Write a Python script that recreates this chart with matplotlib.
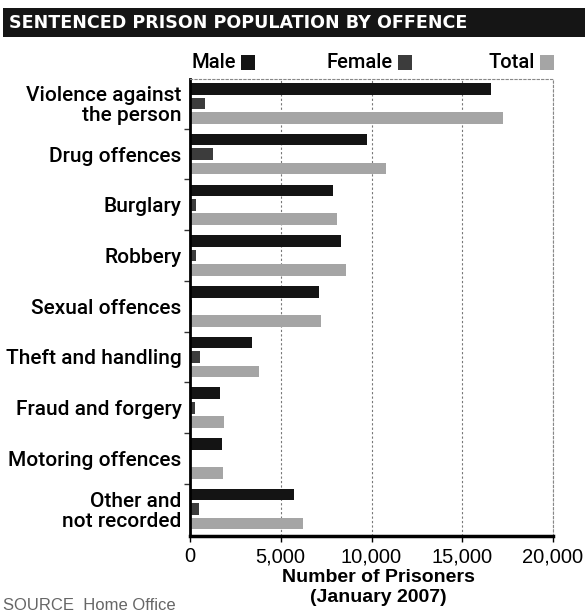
import numpy as np
import matplotlib
matplotlib.use("Agg")
import matplotlib.pyplot as plt
from matplotlib.patches import Rectangle

plt.rcParams['font.family'] = ['Roboto', 'DejaVu Sans']

# data
categories = ["Violence against\nthe person", "Drug offences", "Burglary", "Robbery",
              "Sexual offences", "Theft and handling", "Fraud and forgery",
              "Motoring offences", "Other and\nnot recorded"]
male = [16600, 9750, 7900, 8300, 7100, 3400, 1650, 1750, 5750]
female = [850, 1250, 350, 350, 120, 550, 300, 60, 500]
total = [17250, 10800, 8100, 8600, 7200, 3800, 1850, 1800, 6250]
xticks = [0, 5000, 10000, 15000, 20000]
xtick_labels = ["0", "5,000", "10,000", "15,000", "20,000"]

fig = plt.figure(figsize=(5.85, 6.14), dpi=100)
fig.patch.set_facecolor("white")

# title bar
fig.add_artist(Rectangle((0.005, 1 - 37 / 614), 0.995, 29 / 614, transform=fig.transFigure,
                         facecolor="#151515", edgecolor="none"))
fig.text(0.016, 1 - 23 / 614, "SENTENCED PRISON POPULATION BY OFFENCE", color="white",
         fontsize=12.6, fontweight="bold", family="DejaVu Sans", va="center", ha="left")

ax = fig.add_axes([190 / 585, 78 / 614, 363 / 585, 457 / 614])

y = np.arange(len(categories))
step = 0.285
h = 0.23
ax.barh(y - step, male, height=h, color="#141414")
ax.barh(y, female, height=h, color="#3c3c3c")
ax.barh(y + step, total, height=h, color="#a5a5a5")

ax.set_xlim(0, 20000)
ax.set_ylim(8.53, -0.48)
ax.set_xticks(xticks)
ax.set_xticklabels(xtick_labels, fontsize=14.5, family="Liberation Sans")
ax.set_yticks(y)
ax.set_yticklabels(categories, fontsize=15, fontweight="medium", linespacing=1.03)
ax.set_yticks(y[:-1] + 0.5, minor=True)
ax.tick_params(axis="y", which="major", length=0, pad=6)
ax.tick_params(axis="y", which="minor", length=4, width=1, color="#333")
ax.tick_params(axis="x", length=4, width=1, pad=4)

ax.grid(axis="x", color="#777", linestyle=(0, (2, 2)), linewidth=0.8)
ax.set_axisbelow(True)
ax.spines["left"].set_linewidth(2)
ax.spines["bottom"].set_linewidth(2.5)
for s in ["top", "right"]:
    ax.spines[s].set_color("#888")
    ax.spines[s].set_linestyle((0, (2, 2)))
    ax.spines[s].set_linewidth(0.8)

ax.set_xlabel("Number of Prisoners\n(January 2007)", fontsize=14, fontweight="bold",
              family="Liberation Sans", labelpad=0, linespacing=1.2)
ax.xaxis.set_label_coords(0.52, -0.072, transform=ax.transAxes)
ax.xaxis.label.set_va("top")

# legend: label then swatch
legend_items = [("Male", "#141414", 241), ("Female", "#3c3c3c", 398), ("Total", "#a5a5a5", 540)]
for name, col, xl in legend_items:
    fig.text((xl - 5) / 585, 1 - 62 / 614, name, fontsize=14.5, fontweight="medium",
             ha="right", va="center")
    fig.add_artist(Rectangle((xl / 585, 1 - 70 / 614), 14 / 585, 15 / 614,
                             transform=fig.transFigure, facecolor=col, edgecolor="none"))

fig.text(0.005, 1 - 605 / 614, "SOURCE  Home Office", fontsize=12, color="#666", va="center",
         family="Liberation Sans")

fig.savefig("out.png", dpi=100)
